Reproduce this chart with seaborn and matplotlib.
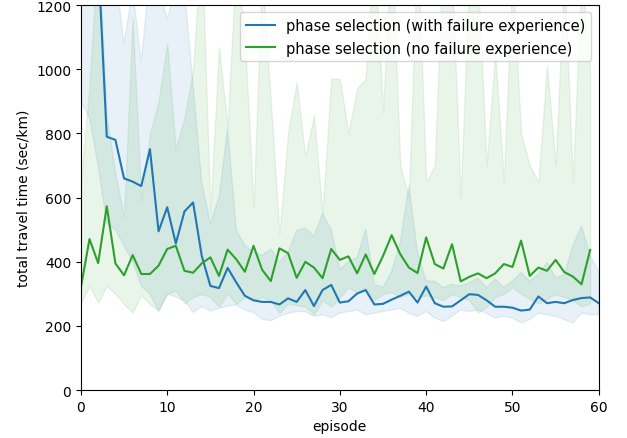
import numpy as np
import pandas as pd
import matplotlib
matplotlib.use("Agg")
import matplotlib.pyplot as plt
import seaborn as sns

# --- data ---
episodes_fail = list(range(61))
episodes_nofail = list(range(60))

# mean travel time, with failure experience (blue)
fail_mean = [1800, 1650, 1350, 790, 780, 660, 650, 636, 751, 495,
             570, 457, 557, 585, 419, 325, 318, 381, 336, 294,
             280, 275, 275, 267, 286, 275, 312, 262, 312, 328,
             273, 277, 301, 312, 267, 269, 282, 294, 307, 273,
             323, 271, 260, 261, 280, 299, 297, 280, 260, 260,
             257, 248, 251, 292, 271, 275, 271, 281, 287, 289, 271]
fail_low = [900, 850, 700, 520, 500, 450, 400, 325, 300, 247,
            300, 290, 280, 242, 260, 247, 255, 262, 265, 250,
            242, 221, 216, 230, 240, 245, 245, 230, 235, 226,
            240, 245, 250, 235, 240, 245, 250, 255, 240, 230,
            245, 225, 214, 230, 250, 245, 250, 240, 225, 230,
            225, 210, 220, 240, 235, 230, 220, 210, 240, 235, 235]
fail_high = [2200, 2100, 1900, 1400, 1300, 1080, 1250, 1023, 1300, 1250,
             1158, 1250, 1250, 950, 650, 520, 600, 815, 500, 450,
             430, 420, 440, 400, 430, 497, 505, 480, 549, 500,
             377, 400, 414, 502, 330, 320, 370, 460, 637, 430,
             340, 340, 320, 330, 325, 335, 350, 320, 346, 320,
             340, 367, 340, 360, 398, 350, 360, 450, 512, 420, 370]

# mean travel time, no failure experience (green)
nofail_mean = [320, 471, 396, 573, 395, 358, 421, 362, 362, 388,
               440, 450, 372, 366, 395, 414, 356, 438, 408, 369,
               450, 375, 340, 442, 427, 350, 400, 382, 349, 440,
               406, 417, 364, 423, 362, 418, 483, 424, 382, 365,
               476, 393, 379, 455, 339, 353, 364, 349, 364, 393,
               384, 466, 356, 382, 372, 406, 368, 354, 330, 437]
nofail_low = [273, 325, 273, 325, 300, 268, 242, 296, 268, 247,
              300, 310, 270, 290, 300, 290, 260, 300, 270, 290,
              280, 290, 280, 240, 270, 265, 260, 236, 280, 260,
              290, 320, 305, 320, 280, 300, 305, 290, 300, 290,
              295, 290, 280, 300, 290, 280, 242, 260, 290, 300,
              320, 300, 285, 270, 285, 300, 290, 280, 262, 270]
nofail_high = [650, 950, 1400, 850, 675, 540, 1160, 590, 800, 900,
               1080, 750, 850, 1000, 1400, 554, 1070, 820, 1350, 1100,
               570, 1300, 900, 487, 800, 960, 727, 856, 549, 971,
               970, 800, 940, 971, 1400, 866, 1400, 700, 600, 1400,
               650, 700, 1400, 1300, 600, 1300, 1300, 700, 1050, 650,
               1300, 800, 700, 650, 1012, 700, 1300, 650, 1300, 1000]

label_fail = "phase selection (with failure experience)"
label_nofail = "phase selection (no failure experience)"

df = pd.concat([
    pd.DataFrame({"episode": episodes_fail, "time": fail_mean, "run": label_fail}),
    pd.DataFrame({"episode": episodes_nofail, "time": nofail_mean, "run": label_nofail}),
])

palette = {label_fail: "#1f77b4", label_nofail: "#2ca02c"}

fig = plt.figure(figsize=(6.27, 4.39), dpi=100)
ax = fig.add_axes([0.129, 0.109, 0.826, 0.877])

# shaded spread for each run
ax.fill_between(episodes_fail, fail_low, fail_high, color=palette[label_fail], alpha=0.1)
ax.fill_between(episodes_nofail, nofail_low, nofail_high, color=palette[label_nofail], alpha=0.1)

sns.lineplot(data=df, x="episode", y="time", hue="run", palette=palette,
             errorbar=None, linewidth=1.5, ax=ax)

ax.set_xlim(0, 60)
ax.set_ylim(0, 1200)
ax.set_xlabel("episode")
ax.set_ylabel("total travel time (sec/km)")
ax.legend(loc="upper right", title=None, fontsize=10.5)

fig.savefig("out.png", dpi=100)
